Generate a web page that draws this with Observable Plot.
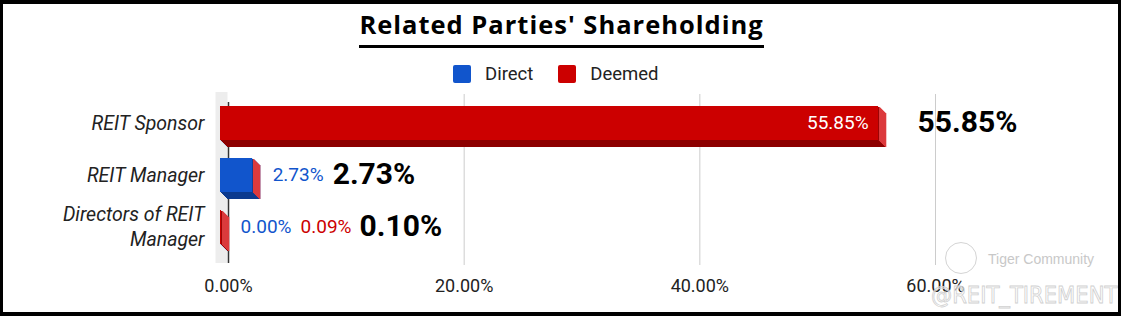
<!DOCTYPE html>
<html>
<head>
<meta charset="utf-8">
<script src="https://cdn.jsdelivr.net/npm/d3@7"></script>
<script src="https://cdn.jsdelivr.net/npm/@observablehq/plot@0.6"></script>
<style>
  html, body { margin: 0; padding: 0; background: #fff; }
  body { width: 1123px; height: 322px; position: relative; overflow: hidden; font-family: Roboto, sans-serif; }
  #frame { position: absolute; left: 0; top: 0; width: 1121px; height: 316px; box-sizing: border-box;
           border-style: solid; border-color: #000; border-width: 4px 3px 4px 3px; pointer-events: none; z-index: 5; }
  #title { position: absolute; left: 0; top: 6px; width: 1123px; text-align: center; }
  #title span { display: inline-block; font-family: "Open Sans", sans-serif; font-weight: 700; font-size: 25.5px;
                letter-spacing: 1px; line-height: 36px; padding-bottom: 3px; border-bottom: 3px solid #000; color: #000; }
  #legend { position: absolute; left: 453px; top: 65px; height: 18px; display: flex; align-items: center;
            font-family: Roboto, sans-serif; font-size: 18.5px; color: #222; }
  #legend .sw { width: 18px; height: 18px; border-radius: 2px; margin-right: 14px; }
  #legend .item { display: flex; align-items: center; margin-right: 25px; }
  #chart { position: absolute; left: 0; top: 90px; }
  #wm-logo { position: absolute; left: 945px; top: 242px; width: 30px; height: 30px; border: 1.5px solid #d4d4d4; border-radius: 50%; }
  #wm1 { position: absolute; left: 988px; top: 251px; font-family: "Liberation Sans", sans-serif; font-size: 14px; color: #c8c8c8; }
  #wm2 { position: absolute; left: 931px; top: 281px; font-family: "Liberation Sans Narrow", "DejaVu Sans Condensed", sans-serif;
         font-size: 23.5px; color: rgba(255,255,255,0.5); -webkit-text-stroke: 0.8px #d0d0d0; }
</style>
</head>
<body>
<div id="title"><span>Related Parties' Shareholding</span></div>
<div id="legend"></div>
<div id="chart"></div>
<div id="wm-logo"></div>
<div id="wm1">Tiger Community</div>
<div id="wm2">@REIT_TIREMENT</div>
<div id="frame"></div>
<script>
// ---- data ----
const categories = ["REIT Sponsor", "REIT Manager", "Directors of REIT\nManager"];
const seriesNames = ["Direct", "Deemed"];
const direct = [0, 2.73, 0.00];
const deemed = [55.85, 0, 0.09];
const totals = [55.85, 2.73, 0.10];
const xTicks = [0, 20, 40, 60];

// ---- styles ----
const colors = {
  Direct: { front: "#1155cc", bottom: "#0c3a8e", side: "#3f74d8" },
  Deemed: { front: "#cc0000", bottom: "#8d0000", side: "#dc3a3c" }
};
const fmt = v => v.toFixed(2) + "%";

// legend
const legend = document.getElementById("legend");
seriesNames.forEach(s => {
  const it = document.createElement("div");
  it.className = "item";
  const sw = document.createElement("div");
  sw.className = "sw";
  sw.style.background = colors[s].front;
  const tx = document.createElement("span");
  tx.textContent = s;
  it.appendChild(sw); it.appendChild(tx);
  legend.appendChild(it);
});

// tables
const directRows = categories.map((c, i) => ({cat: c, x1: 0, x2: direct[i], v: direct[i]}));
const deemedRows = categories.map((c, i) => ({cat: c, x1: direct[i], x2: direct[i] + deemed[i], v: deemed[i]}));
const ends = categories.map((c, i) => ({cat: c, x: direct[i] + deemed[i], d: direct[i], m: deemed[i], t: totals[i]}));

const DEPTH = 7, SHIFT = -8;
function box3d(rows, c) {
  const m = [];
  for (let k = DEPTH; k >= 1; k--) {
    m.push(Plot.rect(rows, {x1: "x1", x2: "x2", y: "cat", dx: SHIFT + k, dy: k, fill: c.bottom}));
  }
  for (let k = 1; k <= DEPTH; k++) {
    m.push(Plot.tickX(rows, {x: "x2", y: "cat", dx: SHIFT + k, dy: k, stroke: c.side, strokeWidth: 1.4}));
  }
  m.push(Plot.rect(rows, {x1: "x1", x2: "x2", y: "cat", dx: SHIFT, fill: c.front}));
  return m;
}

const chart = Plot.plot({
  width: 1123,
  height: 222,
  marginTop: 6,
  marginBottom: 59,
  marginLeft: 228,
  marginRight: 188,
  style: {fontFamily: "Roboto, sans-serif", color: "#222", background: "transparent"},
  x: {domain: [0, 60], label: null},
  y: {domain: categories, paddingInner: 0.352, paddingOuter: 0.171, label: null},
  marks: [
    // left 3D wall
    Plot.ruleX([0], {dx: -7, strokeWidth: 12, stroke: "#ededed", insetTop: -4, insetBottom: -10}),
    // grid
    Plot.ruleX(xTicks.slice(1), {stroke: "#cccccc", strokeWidth: 1, insetTop: -2, insetBottom: -12}),
    // zero axis line
    Plot.ruleX([0], {stroke: "#333", strokeWidth: 1.5, insetTop: 6, insetBottom: -10}),
    ...box3d(directRows, colors.Direct),
    ...box3d(deemedRows, colors.Deemed),
    Plot.axisY({tickSize: 0, tickPadding: 24, fontSize: 19.5, fontStyle: "italic", lineHeight: 1.28, dy: -2, label: null}),
    Plot.axisX({ticks: xTicks, tickFormat: fmt, tickSize: 0, tickPadding: 26, fontSize: 18, label: null}),
    // inside label (Sponsor deemed)
    Plot.text(deemedRows.filter(d => d.v > 10), {x: "x2", y: "cat", text: d => fmt(d.v), dx: -18, dy: -1, textAnchor: "end", fill: "#fff", fontSize: 19}),
    // Sponsor total
    Plot.text(ends.slice(0, 1), {x: "x", y: "cat", text: d => fmt(d.t), dx: 31, dy: -1, textAnchor: "start", fill: "#000", fontSize: 30, fontWeight: "bold"}),
    // Manager direct label + total
    Plot.text(ends.slice(1, 2), {x: "x", y: "cat", text: d => fmt(d.d), dx: 12, dy: -1, textAnchor: "start", fill: colors.Direct.front, fontSize: 19}),
    Plot.text(ends.slice(1, 2), {x: "x", y: "cat", text: d => fmt(d.t), dx: 72, dy: -1, textAnchor: "start", fill: "#000", fontSize: 30, fontWeight: "bold"}),
    // Directors direct, deemed labels + total
    Plot.text(ends.slice(2, 3), {x: "x", y: "cat", text: d => fmt(d.d), dx: 11, dy: -1, textAnchor: "start", fill: colors.Direct.front, fontSize: 19}),
    Plot.text(ends.slice(2, 3), {x: "x", y: "cat", text: d => fmt(d.m), dx: 71, dy: -1, textAnchor: "start", fill: colors.Deemed.front, fontSize: 19}),
    Plot.text(ends.slice(2, 3), {x: "x", y: "cat", text: d => fmt(d.t), dx: 130, dy: -1, textAnchor: "start", fill: "#000", fontSize: 30, fontWeight: "bold"})
  ]
});
document.getElementById("chart").appendChild(chart);
</script>
</body>
</html>
